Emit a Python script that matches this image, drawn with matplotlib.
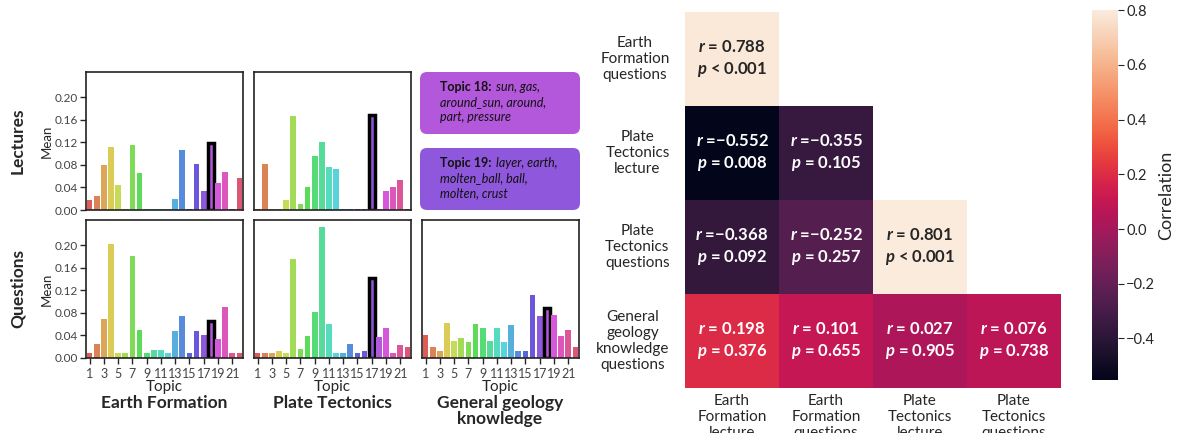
import numpy as np
import pandas as pd
import matplotlib
matplotlib.use("Agg")
import matplotlib.pyplot as plt
from matplotlib.patches import FancyBboxPatch
import seaborn as sns

sns.set_style("ticks")
plt.rcParams["font.family"] = ["Lato", "DejaVu Sans"]
plt.rcParams["mathtext.fontset"] = "custom"
plt.rcParams["mathtext.rm"] = "Lato"
plt.rcParams["mathtext.it"] = "Lato:italic"
plt.rcParams["mathtext.bf"] = "Lato:bold"
plt.rcParams["mathtext.bfit"] = "Lato:bold:italic"
plt.rcParams["text.color"] = "#262626"
plt.rcParams["axes.edgecolor"] = "#222222"

# topic weights, topics 1..22
topics = list(range(1, 23))
ef_lectures = [0.017, 0.025, 0.080, 0.112, 0.045, 0.002, 0.116, 0.066, 0.002, 0.002, 0.002,
               0.002, 0.020, 0.107, 0.002, 0.082, 0.034, 0.119, 0.047, 0.068, 0.002, 0.056]
pt_lectures = [0.002, 0.082, 0.002, 0.002, 0.018, 0.167, 0.011, 0.040, 0.096, 0.120, 0.077,
               0.072, 0.002, 0.002, 0.002, 0.002, 0.169, 0.002, 0.034, 0.041, 0.054, 0.002]
ef_questions = [0.008, 0.024, 0.070, 0.202, 0.008, 0.008, 0.180, 0.050, 0.008, 0.015, 0.015,
                0.008, 0.047, 0.074, 0.008, 0.047, 0.040, 0.066, 0.033, 0.091, 0.008, 0.008]
pt_questions = [0.008, 0.008, 0.008, 0.012, 0.008, 0.176, 0.016, 0.039, 0.082, 0.233, 0.061,
                0.008, 0.008, 0.025, 0.008, 0.012, 0.142, 0.037, 0.053, 0.008, 0.023, 0.020]
gg_questions = [0.040, 0.019, 0.012, 0.062, 0.030, 0.035, 0.028, 0.060, 0.053, 0.031, 0.053,
                0.028, 0.058, 0.012, 0.012, 0.112, 0.074, 0.088, 0.076, 0.039, 0.049, 0.019]

# correlations between topic profiles (lower triangle incl. diagonal)
row_names = ["Earth\nFormation\nquestions", "Plate\nTectonics\nlecture",
             "Plate\nTectonics\nquestions", "General\ngeology\nknowledge\nquestions"]
col_names = ["Earth\nFormation\nlecture", "Earth\nFormation\nquestions",
             "Plate\nTectonics\nlecture", "Plate\nTectonics\nquestions"]
r_values = [[0.788, np.nan, np.nan, np.nan],
            [-0.552, -0.355, np.nan, np.nan],
            [-0.368, -0.252, 0.801, np.nan],
            [0.198, 0.101, 0.027, 0.076]]
p_labels = [["< 0.001", "", "", ""],
            ["= 0.008", "= 0.105", "", ""],
            ["= 0.092", "= 0.257", "< 0.001", ""],
            ["= 0.376", "= 0.655", "= 0.905", "= 0.738"]]

W, H = 1183, 433
fig = plt.figure(figsize=(W / 100, H / 100), dpi=100)


def px_axes(x0, y0, x1, y1):
    return fig.add_axes([x0 / W, 1 - y1 / H, (x1 - x0) / W, (y1 - y0) / H])


pal = sns.color_palette("hls", 22)
ymax = max(max(s) for s in [ef_lectures, pt_lectures, ef_questions, pt_questions, gg_questions]) * 1.05


def bar_panel(ax, values, highlight, left_labels, bottom_labels):
    x = np.arange(len(topics))
    bars = ax.bar(x, values, width=0.8, color=pal, linewidth=0)
    hb = bars[topics.index(highlight)]
    hb.set_edgecolor("black")
    hb.set_linewidth(2.5)
    ax.set_xlim(-0.5, len(topics) - 0.5)
    ax.set_ylim(0, ymax)
    ax.set_yticks(np.arange(0, 0.21, 0.04))
    for s in ax.spines.values():
        s.set_linewidth(1.2)
    ax.tick_params(axis="both", labelsize=8.5, labelcolor="#444444", length=4, width=1, pad=2)
    if left_labels:
        ax.set_yticklabels([f"{v:.2f}" for v in np.arange(0, 0.21, 0.04)])
        ax.set_ylabel("Mean", fontsize=9.5, labelpad=1)
    else:
        ax.tick_params(axis="y", left=False, labelleft=False)
    if bottom_labels:
        ax.set_xticks(x[::2])
        ax.set_xticklabels([str(t) for t in topics[::2]])
        ax.tick_params(axis="x", labelsize=9, pad=3)
        ax.set_xlabel("Topic", fontsize=11, labelpad=0)
    else:
        ax.set_xticks([])


bar_panel(px_axes(86, 72, 243, 210), ef_lectures, 18, True, False)
bar_panel(px_axes(254, 72, 411, 210), pt_lectures, 17, False, False)
bar_panel(px_axes(86, 220, 243, 358), ef_questions, 18, True, True)
bar_panel(px_axes(254, 220, 411, 358), pt_questions, 17, False, True)
bar_panel(px_axes(422, 220, 579, 358), gg_questions, 18, False, True)

fig.text(18 / W, 1 - 141 / H, "Lectures", rotation=90, ha="center", va="center",
         fontsize=12.5, fontweight="bold")
fig.text(18 / W, 1 - 289 / H, "Questions", rotation=90, ha="center", va="center",
         fontsize=12.5, fontweight="bold")
for cx, title in [(164, "Earth Formation"), (332, "Plate Tectonics"),
                  (500, "General geology\nknowledge")]:
    fig.text(cx / W, 1 - 395 / H, title, ha="center", va="top", fontsize=12.5,
             fontweight="bold", linespacing=1.0)

# topic keyword boxes
bx = px_axes(420, 72, 580, 210)
bx.set_xlim(0, 160)
bx.set_ylim(138, 0)
bx.axis("off")
boxes = [
    (0, pal[17], "Topic 18:", ["sun, gas,", "around_sun, around,", "part, pressure"]),
    (76, pal[16], "Topic 19:", ["layer, earth,", "molten_ball, ball,", "molten, crust"]),
]
for y0, color, head, lines in boxes:
    bx.add_patch(FancyBboxPatch((0, y0), 160, 62, boxstyle="round,pad=0,rounding_size=7",
                                facecolor=color, edgecolor="none"))
    t1 = bx.text(20, y0 + 19, head, fontsize=9, fontweight="bold", color="#111111",
                 va="baseline")
    bx.annotate(lines[0], xy=(1, 0), xycoords=t1, xytext=(3, 0), textcoords="offset points",
                fontsize=9, style="italic", color="#111111", va="bottom")
    for i, line in enumerate(lines[1:]):
        bx.text(20, y0 + 34 + 15 * i, line, fontsize=9, style="italic", color="#111111",
                va="baseline")

# correlation heatmap
r_df = pd.DataFrame(r_values, index=row_names, columns=col_names)
annot = np.empty((4, 4), dtype=object)
for i in range(4):
    for j in range(4):
        v = r_values[i][j]
        if np.isnan(v):
            annot[i, j] = ""
        else:
            rv = f"= {v:.3f}" if v >= 0 else f"=\u2212{abs(v):.3f}"
            annot[i, j] = r"$\mathbfit{r}$ " + rv + "\n" + r"$\mathbfit{p}$ " + p_labels[i][j]

hax = px_axes(685, 12, 1061, 388)
cax = px_axes(1092, 10, 1118, 380)
sns.heatmap(r_df, mask=r_df.isna(), cmap="rocket", annot=annot, fmt="", ax=hax, cbar_ax=cax,
            annot_kws={"fontsize": 12, "fontweight": "bold", "linespacing": 1.35},
            cbar_kws={"ticks": [-0.4, -0.2, 0.0, 0.2, 0.4, 0.6, 0.8]})
hax.tick_params(axis="y", length=0, labelsize=11, pad=11)
hax.tick_params(axis="x", length=0, labelsize=11, pad=4)
hax.set_yticklabels(row_names, rotation=0, ha="right", multialignment="center")
hax.set_xticklabels(col_names, rotation=0, ha="center", multialignment="center")
cax.tick_params(labelsize=10.5, length=4, pad=2)
cax.set_yticklabels(["\u22120.4", "\u22120.2", "0.0", "0.2", "0.4", "0.6", "0.8"])
cax.set_ylabel("Correlation", fontsize=13, labelpad=2)

fig.savefig("out.png", dpi=100)
